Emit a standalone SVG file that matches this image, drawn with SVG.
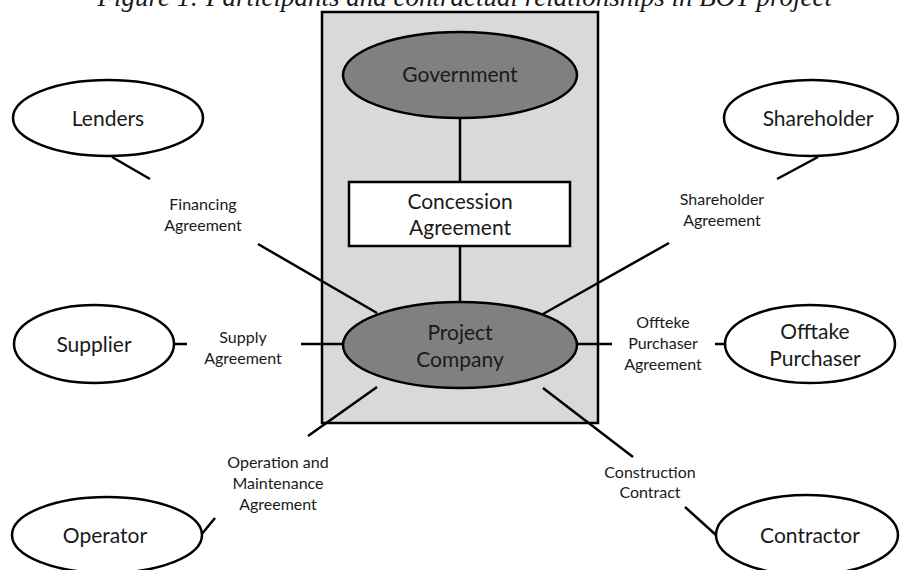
<svg xmlns="http://www.w3.org/2000/svg" width="905" height="570" viewBox="0 0 905 570">
<style>
.t{font-family:Lato,"Liberation Sans",sans-serif;fill:#1a1a1a;text-anchor:middle}
.big{font-size:21px}
.sm{font-size:16px}
.ow{fill:#fff;stroke:#000;stroke-width:2.5}
.og{fill:#808080;stroke:#000;stroke-width:2.5}
.ln{stroke:#000;stroke-width:2.5;fill:none}
</style>
<rect width="905" height="570" fill="#fff"/>
<text x="97.5" y="6" font-family="'Liberation Serif',serif" font-style="italic" font-size="27" fill="#1a1a1a">Figure 1: Participants and contractual relationships in BOT project</text>
<g id="boundary"><rect x="322" y="12" width="276" height="411" fill="#d9d9d9" stroke="#000" stroke-width="2.5"/></g>
<g id="connectors">
<line class="ln" x1="460" y1="118" x2="460" y2="182"/>
<line class="ln" x1="460" y1="246" x2="460" y2="302"/>
<line class="ln" x1="112" y1="157" x2="150" y2="179"/>
<line class="ln" x1="258" y1="244" x2="377" y2="313"/>
<line class="ln" x1="818" y1="157" x2="777" y2="179"/>
<line class="ln" x1="669" y1="243" x2="543" y2="314"/>
<line class="ln" x1="173" y1="344" x2="187" y2="344"/>
<line class="ln" x1="301" y1="344" x2="343" y2="344"/>
<line class="ln" x1="577" y1="344" x2="612" y2="344"/>
<line class="ln" x1="715" y1="344" x2="725" y2="344"/>
<line class="ln" x1="377" y1="387" x2="308" y2="436"/>
<line class="ln" x1="201" y1="535" x2="215" y2="518"/>
<line class="ln" x1="543" y1="388" x2="633" y2="457"/>
<line class="ln" x1="685" y1="507" x2="716" y2="535"/>
</g>
<g id="government"><ellipse class="og" cx="460" cy="75" rx="117" ry="43"/><text class="t big" x="460" y="82">Government</text></g>
<g id="concession"><rect x="349" y="182" width="221" height="64" fill="#fff" stroke="#000" stroke-width="2.5"/><text class="t big" x="460" y="209">Concession</text><text class="t big" x="460" y="235">Agreement</text></g>
<g id="project"><ellipse class="og" cx="460" cy="345" rx="117" ry="43"/><text class="t big" x="460" y="340">Project</text><text class="t big" x="460" y="367">Company</text></g>
<g id="lenders"><ellipse class="ow" cx="108" cy="118" rx="95" ry="38"/><text class="t big" x="108" y="126">Lenders</text></g>
<g id="shareholder"><ellipse class="ow" cx="811" cy="118" rx="87" ry="38"/><text class="t big" x="818" y="126">Shareholder</text></g>
<g id="supplier"><ellipse class="ow" cx="94" cy="344" rx="80" ry="39"/><text class="t big" x="94" y="352">Supplier</text></g>
<g id="offtake"><ellipse class="ow" cx="810" cy="344" rx="85" ry="39"/><text class="t big" x="815" y="339">Offtake</text><text class="t big" x="815" y="366">Purchaser</text></g>
<g id="operator"><ellipse class="ow" cx="107" cy="535" rx="95" ry="38"/><text class="t big" x="105" y="543">Operator</text></g>
<g id="contractor"><ellipse class="ow" cx="807" cy="535" rx="91" ry="40"/><text class="t big" x="810" y="543">Contractor</text></g>
<g id="labels">
<text class="t sm" x="203" y="210">Financing</text><text class="t sm" x="203" y="231">Agreement</text>
<text class="t sm" x="722" y="205">Shareholder</text><text class="t sm" x="722" y="226">Agreement</text>
<text class="t sm" x="243" y="343">Supply</text><text class="t sm" x="243" y="364">Agreement</text>
<text class="t sm" x="663" y="328">Offteke</text><text class="t sm" x="663" y="349">Purchaser</text><text class="t sm" x="663" y="370">Agreement</text>
<text class="t sm" x="278" y="468">Operation and</text><text class="t sm" x="278" y="489">Maintenance</text><text class="t sm" x="278" y="510">Agreement</text>
<text class="t sm" x="650" y="478">Construction</text><text class="t sm" x="650" y="498">Contract</text>
</g>
</svg>
